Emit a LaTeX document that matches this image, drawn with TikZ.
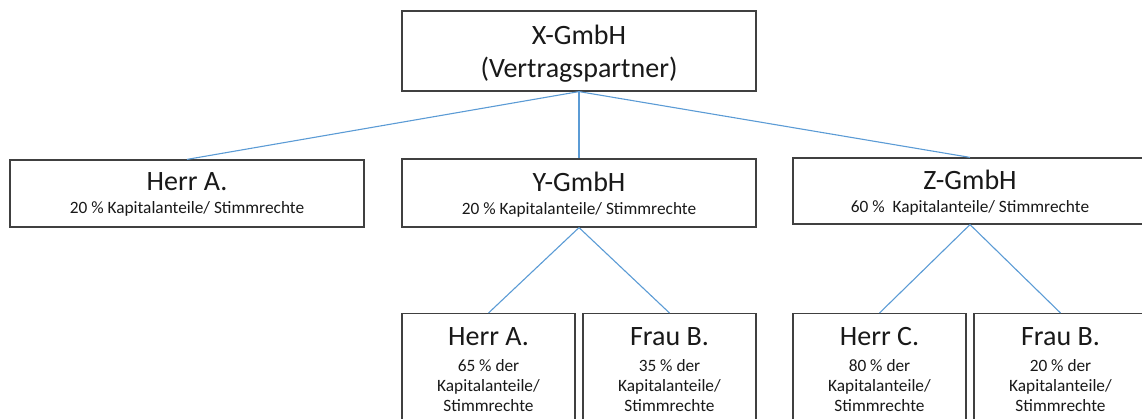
\documentclass[tikz,border=0pt]{standalone}
\usepackage{fontspec}
\setmainfont{Carlito}
\usetikzlibrary{positioning}
\definecolor{linkblue}{RGB}{91,155,213}
\definecolor{boxgray}{RGB}{64,64,64}
\tikzstyle{tbox}=[draw=boxgray, line width=1.2pt, fill=white, align=center, inner sep=0pt, text=black!90, font=\fontsize{17.3}{20}\selectfont]
\tikzstyle{wide}=[tbox, minimum width=354pt, text depth=0pt]
\tikzstyle{cell}=[tbox, minimum width=173pt, anchor=north, inner ysep=14pt, text depth=90pt]
\tikzstyle{link}=[draw=linkblue, line width=1.1pt]
\newcommand{\nm}[1]{{\fontsize{28}{20}\selectfont #1}}

\begin{document}
\begin{tikzpicture}[x=1pt,y=-1pt]
\useasboundingbox (0,0) rectangle (1142,419);
\clip (0,0) rectangle (1142,419);
% top level
\node [wide, minimum height=80pt, font=\fontsize{28}{33}\selectfont] (x) at (579,51) {X-GmbH\\(Vertragspartner)};
% shareholders
\node [wide, minimum height=67pt] (a) at (187,193.5) {\nm{Herr A.}\\[3pt]20 \% Kapitalanteile/ Stimmrechte};
\node [wide, minimum height=68pt] (y) at (579,193) {\nm{Y-GmbH}\\[3pt]20 \% Kapitalanteile/ Stimmrechte};
\node [wide, minimum height=66pt] (z) at (970,191) {\nm{Z-GmbH}\\[3pt]60 \%\ \ Kapitalanteile/ Stimmrechte};
% second level
\node [cell] (ya) at (488.5,313) {\nm{Herr A.}\\[6pt]65 \% der\\Kapitalanteile/\\Stimmrechte};
\node [cell] (yb) at (669.5,313) {\nm{Frau B.}\\[6pt]35 \% der\\Kapitalanteile/\\Stimmrechte};
\node [cell] (zc) at (879.5,313) {\nm{Herr C.}\\[6pt]80 \% der\\Kapitalanteile/\\Stimmrechte};
\node [cell] (zb) at (1060.5,313) {\nm{Frau B.}\\[6pt]20 \% der\\Kapitalanteile/\\Stimmrechte};

\draw[link] (x.south) -- (a.north);
\draw[link] (x.south) -- (y.north);
\draw[link] (x.south) -- (z.north);
\draw[link] (y.south) -- (ya.north);
\draw[link] (y.south) -- (yb.north);
\draw[link] (z.south) -- (zc.north);
\draw[link] (z.south) -- (zb.north);
\end{tikzpicture}
\end{document}
